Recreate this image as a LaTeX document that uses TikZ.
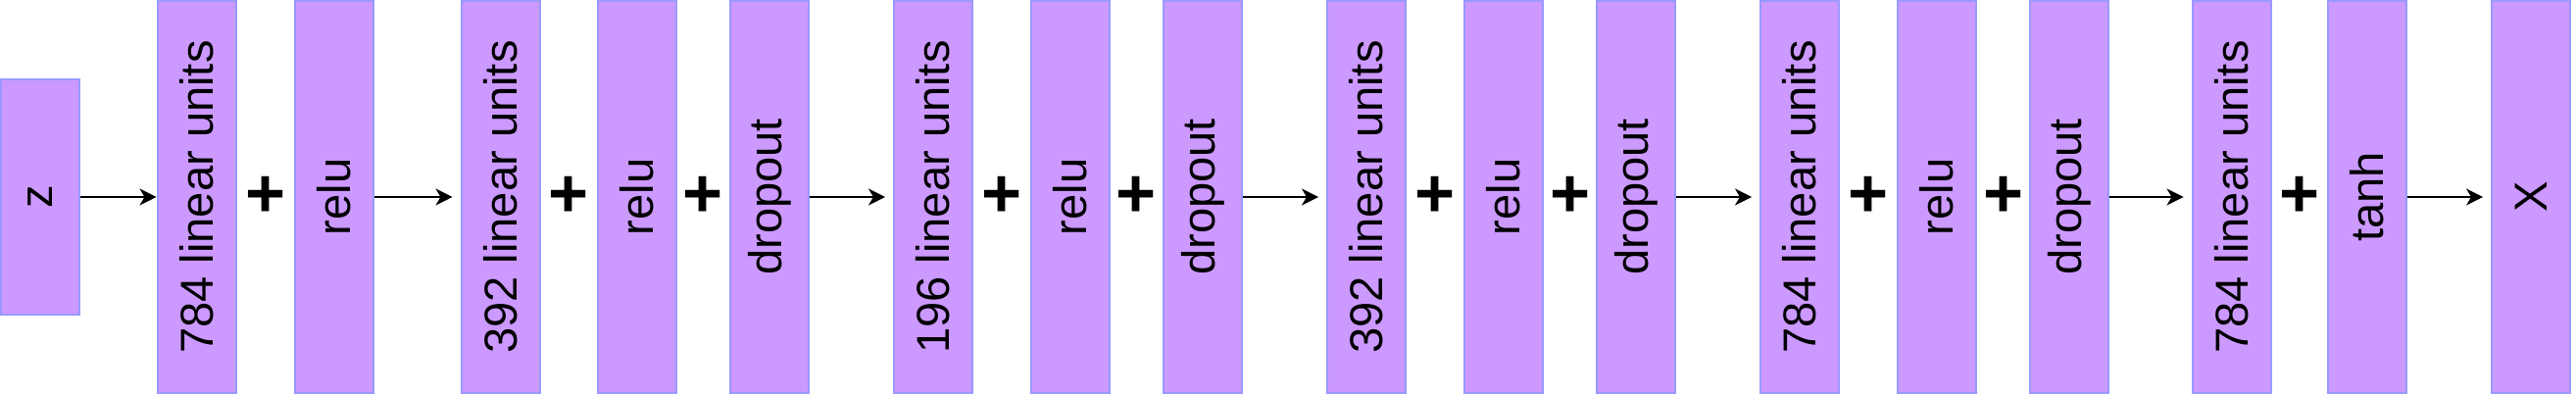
\documentclass[tikz,border=0pt]{standalone}
\usepackage{fontspec}
\setmainfont{Liberation Sans}
\usepackage{tikz}
\usetikzlibrary{arrows.meta,calc}
\definecolor{lila}{HTML}{CC99FF}
\definecolor{lilarand}{HTML}{9999FF}
\tikzset{
  schicht/.style={rotate=90,draw=lilarand,fill=lila,line width=0.57pt,minimum width=4cm,minimum height=0.8cm,inner sep=0pt,font=\fontsize{13.4}{16}\selectfont},
  plus/.style={inner sep=0pt,font=\fontsize{20}{24}\selectfont\bfseries},
  pfeil/.style={-{Stealth[length=1.7mm,width=1.7mm,inset=0.5mm]},line width=0.6pt},
}

\begin{document}
\begin{tikzpicture}
  \useasboundingbox (0,0) rectangle (26.28,4.02);
  \node[schicht,minimum width=2.4cm] (z) at (0.41,2.01) {z};
  \foreach \n/\x/\t in {a/2.005/784 linear units,r1/3.41/relu,b/5.105/392 linear units,r2/6.50/relu,d2/7.85/dropout,
    c/9.52/196 linear units,r3/10.92/relu,d3/12.27/dropout,e/13.94/392 linear units,r4/15.34/relu,d4/16.69/dropout,
    f/18.36/784 linear units,r5/19.76/relu,d5/21.11/dropout,g/22.765/784 linear units,t/24.145/tanh,x/25.82/X}
    {\node[schicht] (\n) at (\x,2.01) {\t};}
  \foreach \p/\q in {a/r1,b/r2,r2/d2,c/r3,r3/d3,e/r4,r4/d4,f/r5,r5/d5,g/t}
    {\node[plus] (plus-\p) at ($(\p)!0.5!(\q)$) {+};}
  \draw[pfeil] (z) -- (a);
  \foreach \p/\q in {r1/b,d2/c,d3/e,d4/f,d5/g,t/x}
    {\draw[pfeil,shorten >=0.08cm] (\p) -- (\q);}
\end{tikzpicture}
\end{document}
